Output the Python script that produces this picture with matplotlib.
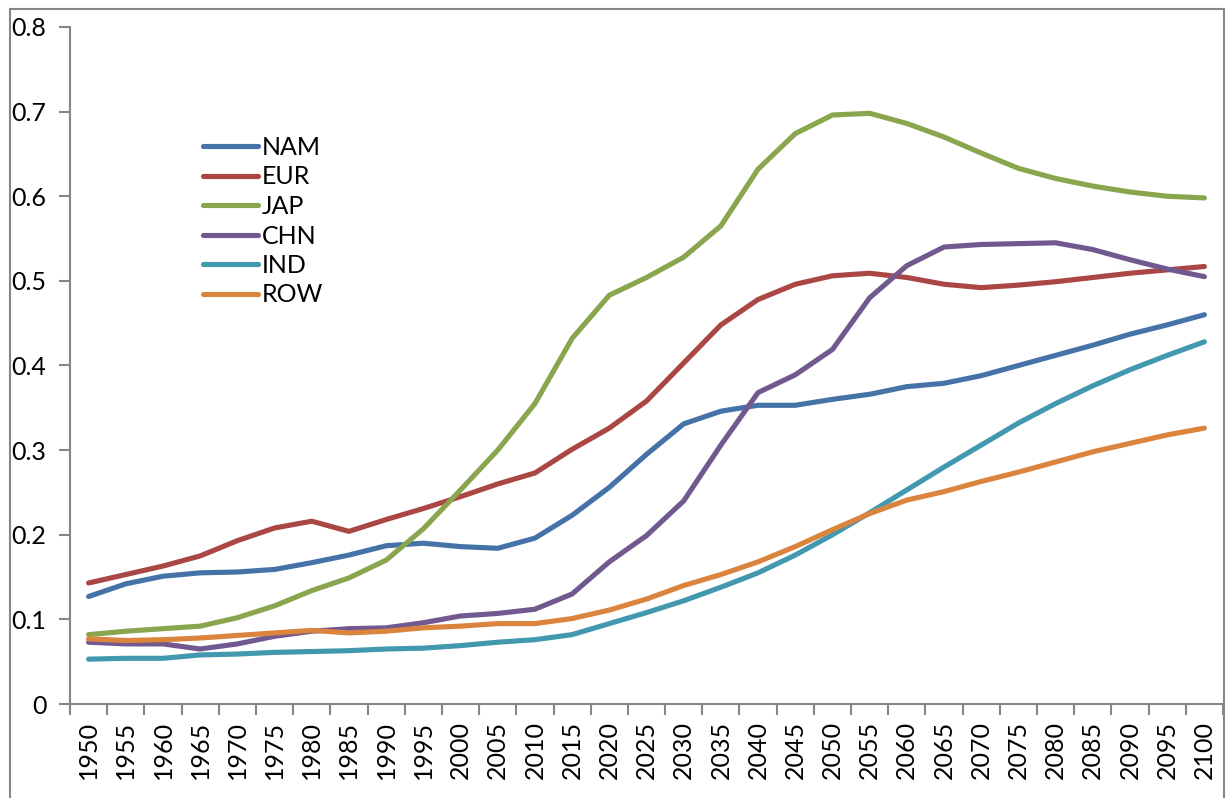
import matplotlib
matplotlib.use('Agg')
import matplotlib.pyplot as plt
from matplotlib.patches import Rectangle
import numpy as np

plt.rcParams['font.family'] = ['Lato', 'DejaVu Sans']

years = [1950, 1955, 1960, 1965, 1970, 1975, 1980, 1985, 1990, 1995,
         2000, 2005, 2010, 2015, 2020, 2025, 2030, 2035, 2040, 2045,
         2050, 2055, 2060, 2065, 2070, 2075, 2080, 2085, 2090, 2095, 2100]

nam = [0.127, 0.142, 0.151, 0.155, 0.156, 0.159, 0.167, 0.176, 0.187, 0.190,
       0.186, 0.184, 0.196, 0.223, 0.256, 0.295, 0.331, 0.346, 0.353, 0.353,
       0.360, 0.366, 0.375, 0.379, 0.388, 0.400, 0.412, 0.424, 0.437, 0.448, 0.460]
eur = [0.143, 0.153, 0.163, 0.175, 0.193, 0.208, 0.216, 0.204, 0.218, 0.231,
       0.245, 0.260, 0.273, 0.301, 0.326, 0.358, 0.403, 0.448, 0.478, 0.496,
       0.506, 0.509, 0.504, 0.496, 0.492, 0.495, 0.499, 0.504, 0.509, 0.513, 0.517]
jap = [0.082, 0.086, 0.089, 0.092, 0.102, 0.116, 0.134, 0.149, 0.170, 0.207,
       0.253, 0.300, 0.355, 0.432, 0.483, 0.504, 0.528, 0.565, 0.632, 0.674,
       0.696, 0.698, 0.686, 0.670, 0.651, 0.633, 0.621, 0.612, 0.605, 0.600, 0.598]
chn = [0.073, 0.071, 0.071, 0.065, 0.071, 0.080, 0.086, 0.089, 0.090, 0.096,
       0.104, 0.107, 0.112, 0.130, 0.168, 0.199, 0.240, 0.306, 0.368, 0.389,
       0.419, 0.480, 0.518, 0.540, 0.543, 0.544, 0.545, 0.537, 0.525, 0.514, 0.505]
ind = [0.053, 0.054, 0.054, 0.058, 0.059, 0.061, 0.062, 0.063, 0.065, 0.066,
       0.069, 0.073, 0.076, 0.082, 0.095, 0.108, 0.122, 0.138, 0.155, 0.176,
       0.200, 0.226, 0.253, 0.280, 0.306, 0.332, 0.355, 0.376, 0.395, 0.412, 0.428]
row = [0.077, 0.075, 0.076, 0.078, 0.081, 0.084, 0.087, 0.084, 0.086, 0.090,
       0.092, 0.095, 0.095, 0.101, 0.111, 0.124, 0.140, 0.153, 0.168, 0.186,
       0.206, 0.225, 0.241, 0.251, 0.263, 0.274, 0.286, 0.298, 0.308, 0.318, 0.326]

series = [('NAM', nam, '#4572A7'), ('EUR', eur, '#AA4643'), ('JAP', jap, '#89A54E'),
          ('CHN', chn, '#71588F'), ('IND', ind, '#4198AF'), ('ROW', row, '#DB843D')]

W, H = 1228, 798
fig = plt.figure(figsize=(W / 100, H / 100), dpi=100)
ax = fig.add_axes([70 / W, (H - 704) / H, 1153 / W, 677 / H])

x = np.arange(len(years))
for name, vals, col in series:
    ax.plot(x, vals, color=col, lw=3.7, solid_capstyle='round',
            solid_joinstyle='round', label=name)

gray = '#868686'
ax.set_xlim(-0.5, len(years) - 0.5)
ax.set_ylim(0, 0.8)
ax.set_yticks(np.arange(0, 0.81, 0.1))
ax.set_yticklabels(['0'] + ['%.1f' % v for v in np.arange(0.1, 0.81, 0.1)])
ax.set_xticks(np.arange(-0.5, len(years)), [''] * (len(years) + 1))
ax.set_xticks(x, [str(y) for y in years], minor=True)
ax.tick_params(axis='x', which='minor', length=0, rotation=90, pad=12, labelsize=18)
ax.tick_params(axis='x', which='major', length=8, width=1.5, color=gray, direction='out')
ax.tick_params(axis='y', length=8, width=1.5, color=gray, direction='out', pad=9, labelsize=18)
for s in ['top', 'right']:
    ax.spines[s].set_visible(False)
for s in ['left', 'bottom']:
    ax.spines[s].set_color(gray)
    ax.spines[s].set_linewidth(1.5)

ax.legend(loc='upper left', bbox_to_anchor=(203 / W, 1 - 136 / H),
          bbox_transform=fig.transFigure, frameon=False, fontsize=18,
          handlelength=2.2, handletextpad=0.15, labelspacing=0.26,
          borderpad=0, borderaxespad=0)

fig.patches.append(Rectangle((10 / W, -0.02), (1224 - 10) / W, 1.02 - 9 / H,
                             transform=fig.transFigure, fill=False,
                             edgecolor=gray, lw=1.5))

fig.savefig('out.png', dpi=100)
